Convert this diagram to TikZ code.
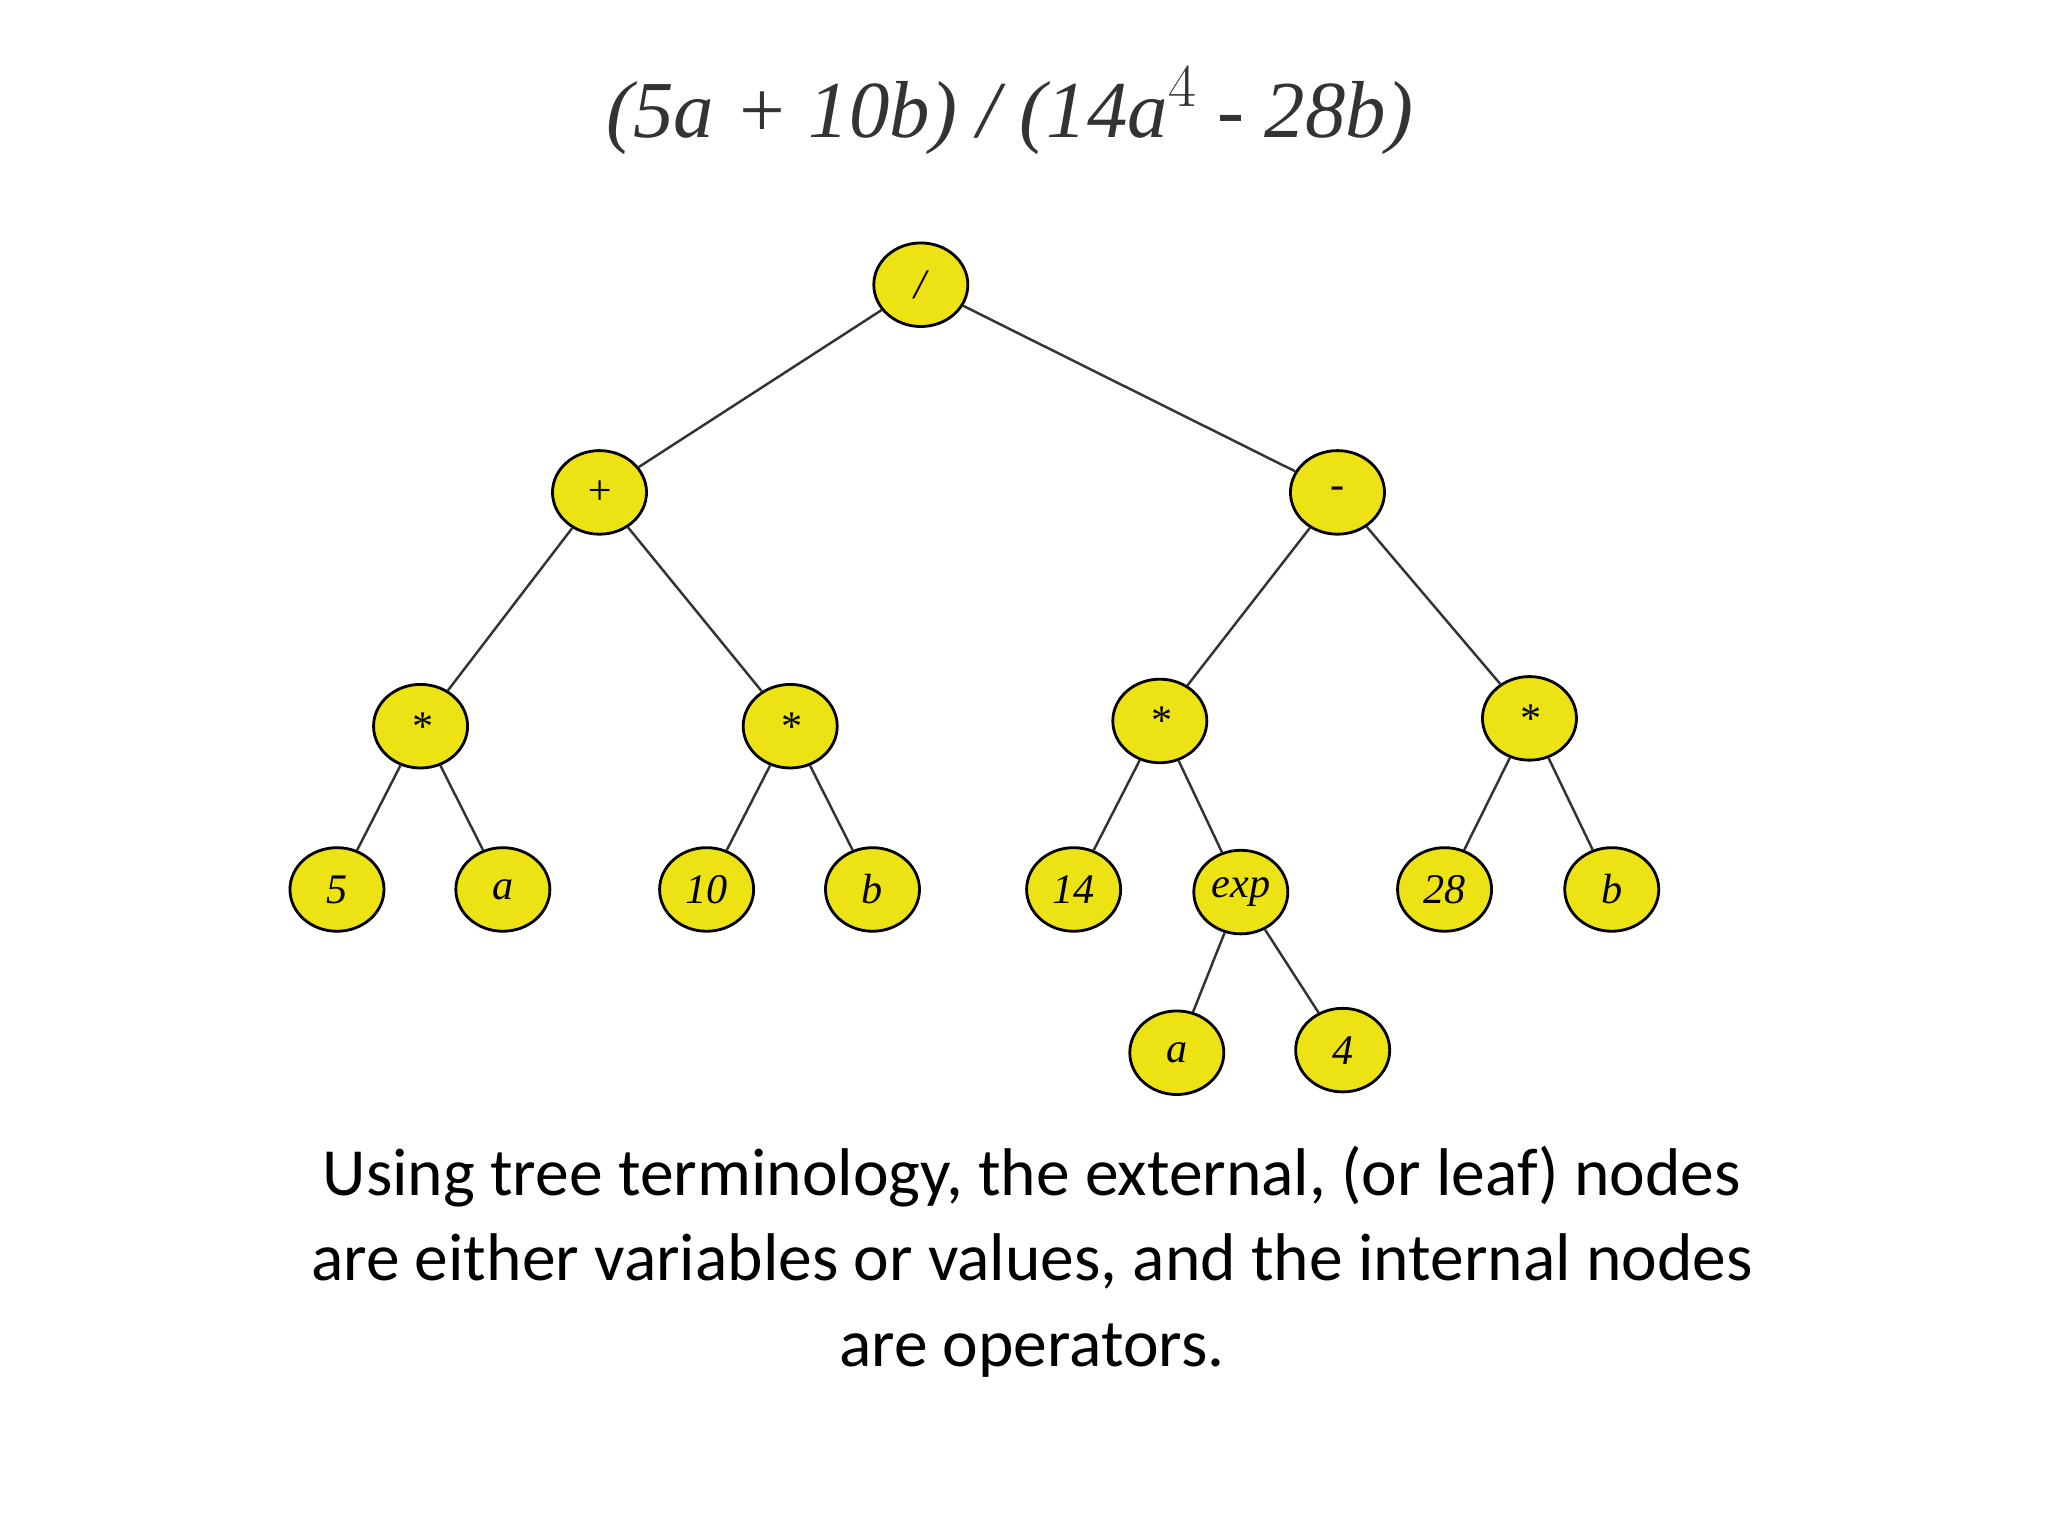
\documentclass[tikz,border=0pt]{standalone}
\usepackage{fontspec}
\setmainfont{Liberation Serif}
\newfontfamily\calib{Carlito}
\usetikzlibrary{shapes.geometric}
\begin{document}
\begin{tikzpicture}[x=0.01306cm,y=-0.01306cm,
  tn/.style={ellipse,draw=black,fill=yellow!92!black,line width=0.8pt,minimum width=72*0.01306cm,minimum height=64*0.01306cm,inner sep=0pt,font=\itshape\fontsize{12}{14}\selectfont},
  ed/.style={draw=black!80,line width=0.7pt}]
\useasboundingbox (0,0) rectangle (1568,1176);
\node[font=\itshape\fontsize{23}{26}\selectfont,text=black!80] (title) at (773,85) {(5a + 10b) / (14a$^{4}$ - 28b)};
\node[tn] (r) at (705,218) {/};
\node[tn] (p) at (459,377) {+};
\node[tn] (m) at (1024,377) {-};
\node[tn] (t1) at (322,556) {*};
\node[tn] (t2) at (605,556) {*};
\node[tn] (t3) at (888,552) {*};
\node[tn] (t4) at (1171,550) {*};
\node[tn] (l5) at (258,681) {5};
\node[tn] (la) at (385,681) {a};
\node[tn] (l10) at (541,681) {10};
\node[tn] (lb) at (668,681) {b};
\node[tn] (l14) at (822,681) {14};
\node[tn] (ex) at (950,683) {exp};
\node[tn] (l28) at (1106,681) {28};
\node[tn] (lb2) at (1234,681) {b};
\node[tn] (la2) at (901,806) {a};
\node[tn] (l4) at (1028,804) {4};
\draw[ed] (r)--(p); \draw[ed] (r)--(m);
\draw[ed] (p)--(t1); \draw[ed] (p)--(t2);
\draw[ed] (m)--(t3); \draw[ed] (m)--(t4);
\draw[ed] (t1)--(l5); \draw[ed] (t1)--(la);
\draw[ed] (t2)--(l10); \draw[ed] (t2)--(lb);
\draw[ed] (t3)--(l14); \draw[ed] (t3)--(ex);
\draw[ed] (t4)--(l28); \draw[ed] (t4)--(lb2);
\draw[ed] (ex)--(la2); \draw[ed] (ex)--(l4);
\node[font=\calib\fontsize{19.2}{24.2}\selectfont,align=center] (cap) at (790,966) {Using tree terminology, the external, (or leaf) nodes\\are either variables or values, and the internal nodes\\are operators.};
\end{tikzpicture}
\end{document}
